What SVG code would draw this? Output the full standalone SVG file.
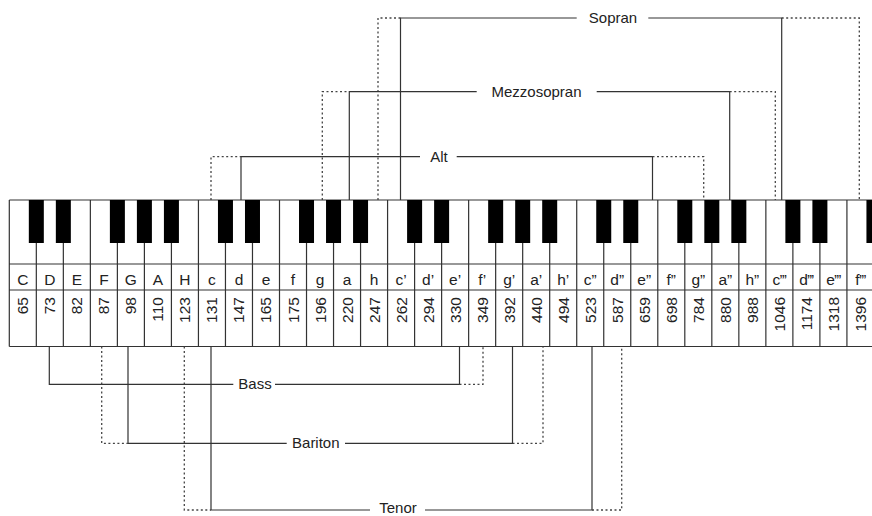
<svg xmlns="http://www.w3.org/2000/svg" width="872" height="516" viewBox="0 0 872 516">
<style>
.kl{fill:none;stroke:#333;stroke-width:1.2}
.bk{fill:#000}
.nt{font-family:"Liberation Sans",Arial,sans-serif;font-size:15.5px;fill:#222;text-anchor:middle}
.num{font-family:"Liberation Sans",Arial,sans-serif;font-size:15.5px;fill:#222;text-anchor:end}
.lab{font-family:"Liberation Sans",Arial,sans-serif;font-size:15px;fill:#222;text-anchor:middle}
.sol{fill:none;stroke:#333;stroke-width:1.2}
.dot{fill:none;stroke:#444;stroke-width:1.3;stroke-dasharray:2 2.5}
</style>
<rect width="872" height="516" fill="#fff"/>
<g id="keyboard">
<path class="kl" d="M9.3 200H872M9.3 264H872M9.3 290H872M9.3 346.5H872
M9.3 200V346.5M36.32 200V346.5M63.34 200V346.5M90.36 200V346.5M117.38 200V346.5M144.4 200V346.5M171.42 200V346.5M198.44 200V346.5M225.46 200V346.5M252.48 200V346.5M279.5 200V346.5M306.52 200V346.5M333.54 200V346.5M360.56 200V346.5M387.58 200V346.5M414.6 200V346.5M441.62 200V346.5M468.64 200V346.5M495.66 200V346.5M522.68 200V346.5M549.7 200V346.5M576.72 200V346.5M603.74 200V346.5M630.76 200V346.5M657.78 200V346.5M684.8 200V346.5M711.82 200V346.5M738.84 200V346.5M765.86 200V346.5M792.88 200V346.5M819.9 200V346.5M846.92 200V346.5"/>
<g class="bk">
<rect x="28.82" y="200" width="15" height="43"/>
<rect x="55.84" y="200" width="15" height="43"/>
<rect x="109.88" y="200" width="15" height="43"/>
<rect x="136.9" y="200" width="15" height="43"/>
<rect x="163.92" y="200" width="15" height="43"/>
<rect x="217.96" y="200" width="15" height="43"/>
<rect x="244.98" y="200" width="15" height="43"/>
<rect x="299.02" y="200" width="15" height="43"/>
<rect x="326.04" y="200" width="15" height="43"/>
<rect x="353.06" y="200" width="15" height="43"/>
<rect x="407.1" y="200" width="15" height="43"/>
<rect x="434.12" y="200" width="15" height="43"/>
<rect x="488.16" y="200" width="15" height="43"/>
<rect x="515.18" y="200" width="15" height="43"/>
<rect x="542.2" y="200" width="15" height="43"/>
<rect x="596.24" y="200" width="15" height="43"/>
<rect x="623.26" y="200" width="15" height="43"/>
<rect x="677.3" y="200" width="15" height="43"/>
<rect x="704.32" y="200" width="15" height="43"/>
<rect x="731.34" y="200" width="15" height="43"/>
<rect x="785.38" y="200" width="15" height="43"/>
<rect x="812.4" y="200" width="15" height="43"/>
<rect x="866.44" y="200" width="15" height="43"/>
</g>
<g class="nt">
<text x="22.81" y="285">C</text>
<text x="49.83" y="285">D</text>
<text x="76.85" y="285">E</text>
<text x="103.87" y="285">F</text>
<text x="130.89" y="285">G</text>
<text x="157.91" y="285">A</text>
<text x="184.93" y="285">H</text>
<text x="211.95" y="285">c</text>
<text x="238.97" y="285">d</text>
<text x="265.99" y="285">e</text>
<text x="293.01" y="285">f</text>
<text x="320.03" y="285">g</text>
<text x="347.05" y="285">a</text>
<text x="374.07" y="285">h</text>
<text x="401.09" y="285">c’</text>
<text x="428.11" y="285">d’</text>
<text x="455.13" y="285">e’</text>
<text x="482.15" y="285">f’</text>
<text x="509.17" y="285">g’</text>
<text x="536.19" y="285">a’</text>
<text x="563.21" y="285">h’</text>
<text x="590.23" y="285">c”</text>
<text x="617.25" y="285">d”</text>
<text x="644.27" y="285">e”</text>
<text x="671.29" y="285">f”</text>
<text x="698.31" y="285">g”</text>
<text x="725.33" y="285">a”</text>
<text x="752.35" y="285">h”</text>
<text x="779.37" y="285" letter-spacing="-1">c’’’</text>
<text x="806.39" y="285" letter-spacing="-1">d’’’</text>
<text x="833.41" y="285" letter-spacing="-1">e’’’</text>
<text x="860.43" y="285" letter-spacing="-1">f’’’</text>
</g>
<g class="num">
<text transform="translate(28.3 297) rotate(-90)">65</text>
<text transform="translate(55.33 297) rotate(-90)">73</text>
<text transform="translate(82.35 297) rotate(-90)">82</text>
<text transform="translate(109.37 297) rotate(-90)">87</text>
<text transform="translate(136.39 297) rotate(-90)">98</text>
<text transform="translate(163.41 297) rotate(-90)">110</text>
<text transform="translate(190.43 297) rotate(-90)">123</text>
<text transform="translate(217.45 297) rotate(-90)">131</text>
<text transform="translate(244.47 297) rotate(-90)">147</text>
<text transform="translate(271.49 297) rotate(-90)">165</text>
<text transform="translate(298.51 297) rotate(-90)">175</text>
<text transform="translate(325.53 297) rotate(-90)">196</text>
<text transform="translate(352.55 297) rotate(-90)">220</text>
<text transform="translate(379.57 297) rotate(-90)">247</text>
<text transform="translate(406.59 297) rotate(-90)">262</text>
<text transform="translate(433.61 297) rotate(-90)">294</text>
<text transform="translate(460.63 297) rotate(-90)">330</text>
<text transform="translate(487.65 297) rotate(-90)">349</text>
<text transform="translate(514.67 297) rotate(-90)">392</text>
<text transform="translate(541.69 297) rotate(-90)">440</text>
<text transform="translate(568.71 297) rotate(-90)">494</text>
<text transform="translate(595.73 297) rotate(-90)">523</text>
<text transform="translate(622.75 297) rotate(-90)">587</text>
<text transform="translate(649.77 297) rotate(-90)">659</text>
<text transform="translate(676.79 297) rotate(-90)">698</text>
<text transform="translate(703.81 297) rotate(-90)">784</text>
<text transform="translate(730.83 297) rotate(-90)">880</text>
<text transform="translate(757.85 297) rotate(-90)">988</text>
<text transform="translate(784.87 297) rotate(-90)">1046</text>
<text transform="translate(811.89 297) rotate(-90)">1174</text>
<text transform="translate(838.91 297) rotate(-90)">1318</text>
<text transform="translate(865.93 297) rotate(-90)">1396</text>
</g>
</g>
<g id="connectors">
<path class="sol" d="M400.5 200V18H576.7M648.3 18H781.7V200"/>
<path class="dot" d="M378 200V18H400.5M781.7 18H859.3V200"/>
<path class="sol" d="M349.3 200V91.7H476.7M596.7 91.7H729.7V200"/>
<path class="dot" d="M322.3 200V91.7H349.3M729.7 91.7H775.3V200"/>
<path class="sol" d="M241 200V156.7H420M456.7 156.7H652.5V200"/>
<path class="dot" d="M211 200V156.7H241M652.5 156.7H703.7V200"/>
<path class="sol" d="M49.3 346.5V384.3H233.3M275 384.3H459.5V346.5"/>
<path class="dot" d="M459.5 384.3H483V346.5"/>
<path class="sol" d="M128 346.5V443.3H286.7M345 443.3H512.5V346.5"/>
<path class="dot" d="M101.7 346.5V443.3H128M512.5 443.3H543V346.5"/>
<path class="sol" d="M211 346.5V510H370M425 510H592V346.5"/>
<path class="dot" d="M184.3 346.5V510H211M592 510H621.7V346.5"/>
</g>
<g id="sopran"><text class="lab" x="613" y="23">Sopran</text></g>
<g id="mezzosopran"><text class="lab" x="536.5" y="96.7">Mezzosopran</text></g>
<g id="alt"><text class="lab" x="439" y="161.7">Alt</text></g>
<g id="bass"><text class="lab" x="255" y="389.3">Bass</text></g>
<g id="bariton"><text class="lab" x="315.8" y="448.3">Bariton</text></g>
<g id="tenor"><text class="lab" x="398" y="512.5">Tenor</text></g>
</svg>
